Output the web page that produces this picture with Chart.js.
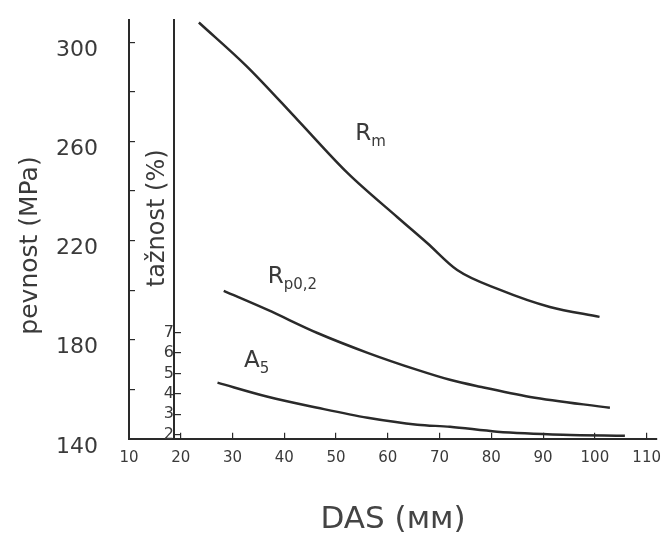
<!DOCTYPE html>
<html>
<head>
<meta charset="utf-8">
<script src="https://cdn.jsdelivr.net/npm/chart.js@4.4.0/dist/chart.umd.min.js"></script>
<style>
  html, body { margin: 0; padding: 0; background: #fff; }
  #wrap { width: 666px; height: 535px; }
</style>
</head>
<body>
<div id="wrap"><canvas id="dasChart"></canvas></div>
<script>
// DAS values (mm) and curves
const rmDas = [23.5, 32.9, 42.6, 52.2, 61.8, 67.6, 73.4, 81.7, 91.3, 100.9];
const rmValues = [308, 290, 268.6, 247.3, 229.5, 219, 208.1, 200.1, 193.2, 189.2];

const rpDas = [28.3, 36.8, 46.4, 56.1, 65.7, 72, 77.8, 87.5, 102.9];
const rpValues = [199.7, 192, 182.7, 174.7, 167.8, 163.8, 161, 156.9, 152.5];

const a5Das = [27.1, 36.8, 46.4, 56.1, 65.7, 72, 81.1, 93.8, 105.8];
const a5Values = [4.55, 3.86, 3.32, 2.83, 2.49, 2.39, 2.15, 2.0, 1.95];

// tick labels
const xTicks = [10, 20, 30, 40, 50, 60, 70, 80, 90, 100, 110];
const yTickMarks = [140, 160, 180, 200, 220, 240, 260, 280, 300];
const yTickLabels = [140, 180, 220, 260, 300];
const elongTicks = [2, 3, 4, 5, 6, 7];

const ink = '#2a2a2a';
const textCol = '#3a3a3a';

function toPoints(xs, ys) {
    return xs.map((x, i) => ({ x: x, y: ys[i] }));
}

// drop the extra room chart.js reserves for end labels
function noEdgePadding(s) {
    s.paddingTop = 0;
    s.paddingBottom = 0;
    s.paddingLeft = 0;
    s.paddingRight = 0;
}

// rotated text helper
function verticalText(ctx, text, x, y, size) {
    ctx.save();
    ctx.translate(x, y);
    ctx.rotate(-Math.PI / 2);
    ctx.textAlign = 'center';
    ctx.textBaseline = 'middle';
    ctx.font = size + 'px "DejaVu Sans"';
    ctx.fillText(text, 0, 0);
    ctx.restore();
}

// curve names and the two axis titles, placed in data units
const curveLabels = {
    id: 'curveLabels',
    afterDatasetsDraw(chart) {
        const ctx = chart.ctx;
        const sx = chart.scales.x;
        const sy = chart.scales.y;
        ctx.save();
        ctx.fillStyle = textCol;
        ctx.textBaseline = 'alphabetic';
        ctx.textAlign = 'left';
        const names = [
            { main: 'R', sub: 'm', x: 53.7, y: 260.6 },
            { main: 'R', sub: 'p0,2', x: 36.8, y: 202.9 },
            { main: 'A', sub: '5', x: 32.2, y: 169 }
        ];
        names.forEach(n => {
            const px = sx.getPixelForValue(n.x);
            const py = sy.getPixelForValue(n.y);
            ctx.font = '23px "DejaVu Sans"';
            ctx.fillText(n.main, px, py);
            const w = ctx.measureText(n.main).width;
            ctx.font = '15px "DejaVu Sans"';
            ctx.fillText(n.sub, px + w, py + 6);
        });
        verticalText(ctx, 'tažnost (%)', sx.getPixelForValue(15.6), sy.getPixelForValue(229), 24);
        verticalText(ctx, 'pevnost (MPa)', sy.left + 11, sy.getPixelForValue(218), 25);
        ctx.restore();
    }
};

const lineStyle = {
    borderColor: ink,
    borderWidth: 2.5,
    pointRadius: 0,
    fill: false,
    cubicInterpolationMode: 'monotone'
};

new Chart(document.getElementById('dasChart'), {
    type: 'line',
    data: {
        datasets: [
            Object.assign({ label: 'Rm', data: toPoints(rmDas, rmValues), yAxisID: 'y' }, lineStyle),
            Object.assign({ label: 'Rp0,2', data: toPoints(rpDas, rpValues), yAxisID: 'y' }, lineStyle),
            Object.assign({ label: 'A5', data: toPoints(a5Das, a5Values), yAxisID: 'y2' }, lineStyle)
        ]
    },
    options: {
        responsive: true,
        maintainAspectRatio: false,
        animation: false,
        layout: { padding: { top: 20, right: 9, left: 19, bottom: 4 } },
        plugins: {
            legend: { display: false },
            tooltip: { enabled: false }
        },
        scales: {
            x: {
                type: 'linear',
                min: 10,
                max: 112,
                afterBuildTicks: s => { s.ticks = xTicks.map(v => ({ value: v })); },
                afterFit: noEdgePadding,
                border: { color: ink, width: 2 },
                grid: { drawOnChartArea: false, tickLength: -6, color: ink, lineWidth: 1.2 },
                ticks: {
                    color: textCol,
                    font: { family: 'DejaVu Sans', size: 15 },
                    padding: 16,
                    maxRotation: 0,
                    autoSkip: false
                },
                title: {
                    display: true,
                    text: 'DAS (мм)',
                    color: '#444',
                    font: { family: 'DejaVu Sans', size: 31 },
                    padding: { top: 19, bottom: -8 }
                }
            },
            y: {
                type: 'linear',
                position: 'left',
                min: 140,
                max: 309,
                afterBuildTicks: s => { s.ticks = yTickMarks.map(v => ({ value: v })); },
                afterFit: noEdgePadding,
                border: { color: ink, width: 2 },
                grid: { drawOnChartArea: false, tickLength: -6, color: ink, lineWidth: 1.2 },
                ticks: {
                    color: textCol,
                    font: { family: 'DejaVu Sans', size: 22 },
                    padding: 37,
                    labelOffset: 8,
                    autoSkip: false,
                    callback: v => yTickLabels.includes(v) ? String(v) : ''
                }
            },
            y2: {
                type: 'linear',
                position: { x: 18.7 },
                min: 1.8,
                max: 22.3,
                afterBuildTicks: s => { s.ticks = elongTicks.map(v => ({ value: v })); },
                afterFit: noEdgePadding,
                border: { color: ink, width: 2 },
                grid: { drawOnChartArea: false, tickLength: -8, color: ink, lineWidth: 1.2 },
                ticks: {
                    color: textCol,
                    font: { family: 'DejaVu Sans', size: 16 },
                    padding: 11,
                    autoSkip: false
                }
            }
        }
    },
    plugins: [curveLabels]
});
</script>
</body>
</html>
